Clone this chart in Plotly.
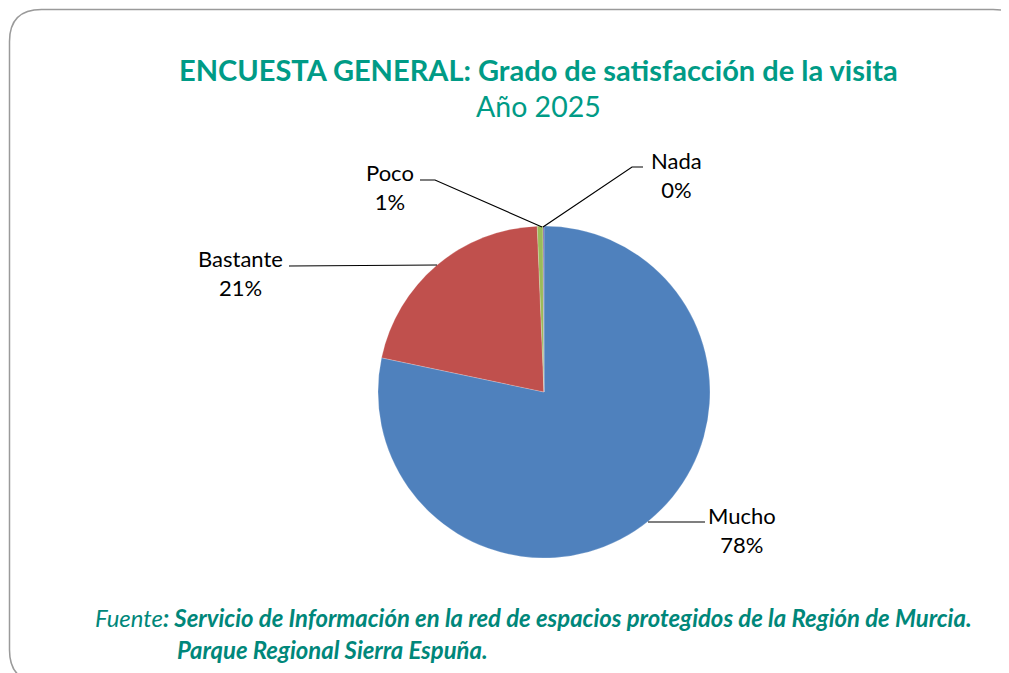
import plotly.graph_objects as go

# ---- data ----
categories = ["Mucho", "Bastante", "Poco", "Nada"]
values = [78.3, 21.05, 0.55, 0.1]
colors = ["#4F81BD", "#C0504D", "#9BBB59", "#8064A2"]

title_text = "ENCUESTA GENERAL: Grado de satisfacción de la visita"
subtitle_text = "Año 2025"
source_prefix = "Fuente"
source_line1 = ": Servicio de Información en la red de espacios protegidos de la Región de Murcia."
source_line2 = "Parque Regional Sierra Espuña."

OFF = 8  # browser default body margin
W, H = 1009 - OFF, 673 - OFF
FONT = "Lato"
TEAL = "#009B86"
TEAL2 = "#00877A"


def px(x):
    return (x - OFF) / W


def py(y):
    return 1 - (y - OFF) / H


total = sum(values)
pcts = [v / total * 100 for v in values]

fig = go.Figure()
cx, cy, r = 544, 392, 166
fig.add_trace(go.Pie(
    labels=categories,
    values=values,
    sort=False,
    direction="clockwise",
    rotation=0,
    marker=dict(colors=colors, line=dict(color="rgba(255,255,255,0.4)", width=0.5)),
    textinfo="none",
    hoverinfo="label+percent",
    showlegend=False,
    domain=dict(x=[px(cx - r), px(cx + r)], y=[py(cy + r), py(cy - r)]),
))

# label placements (pixel positions) and leader lines
label_pos = {
    "Mucho": (742, 530),
    "Bastante": (240, 273),
    "Poco": (390, 187),
    "Nada": (676, 175),
}
leaders = {
    "Mucho": [(648, 522), (705, 522)],
    "Bastante": [(437, 265), (289, 266)],
    "Poco": [(542, 227), (435, 180), (420, 180)],
    "Nada": [(543, 227), (632, 167), (643, 167)],
}

annotations = []
shapes = []
for cat, pct in zip(categories, pcts):
    x, y = label_pos[cat]
    annotations.append(dict(
        x=px(x), y=py(y), xref="paper", yref="paper",
        text=f"{cat}<br>{round(pct)}%", showarrow=False,
        font=dict(family=FONT, size=22, color="#000000"),
        align="center", xanchor="center", yanchor="middle",
    ))
    pts = leaders[cat]
    path = "M " + " L ".join(f"{px(a):.5f},{py(b):.5f}" for a, b in pts)
    shapes.append(dict(type="path", xref="paper", yref="paper", path=path,
                       line=dict(color="#000000", width=1.2)))

# titles
annotations.append(dict(
    x=px(538), y=py(70), xref="paper", yref="paper",
    text=f"<b>{title_text}</b>", showarrow=False,
    font=dict(family=FONT, size=29, color=TEAL),
    xanchor="center", yanchor="middle"))
annotations.append(dict(
    x=px(538), y=py(106), xref="paper", yref="paper",
    text=subtitle_text, showarrow=False,
    font=dict(family=FONT, size=28.5, color=TEAL),
    xanchor="center", yanchor="middle"))

# source
annotations.append(dict(
    x=px(93), y=py(617), xref="paper", yref="paper",
    text=f"<i>{source_prefix}</i><b><i>{source_line1}</i></b>", showarrow=False,
    font=dict(family=FONT, size=23.9, color=TEAL2),
    xanchor="left", yanchor="middle"))
annotations.append(dict(
    x=px(175), y=py(649), xref="paper", yref="paper",
    text=f"<b><i>{source_line2}</i></b>", showarrow=False,
    font=dict(family=FONT, size=23.9, color=TEAL2),
    xanchor="left", yanchor="middle"))

# rounded frame
L, T, R, B, rad = 9.5, 9.5, 1025, 682, 32
frame = (f"M {px(L):.5f},{py(T+rad):.5f} Q {px(L):.5f},{py(T):.5f} {px(L+rad):.5f},{py(T):.5f} "
         f"L {px(R-rad):.5f},{py(T):.5f} Q {px(R):.5f},{py(T):.5f} {px(R):.5f},{py(T+rad):.5f} "
         f"L {px(R):.5f},{py(B-rad):.5f} Q {px(R):.5f},{py(B):.5f} {px(R-rad):.5f},{py(B):.5f} "
         f"L {px(L+rad):.5f},{py(B):.5f} Q {px(L):.5f},{py(B):.5f} {px(L):.5f},{py(B-rad):.5f} Z")
shapes.insert(0, dict(type="path", xref="paper", yref="paper", path=frame,
                      line=dict(color="#9A9A9A", width=1.5), layer="below"))

fig.update_layout(
    width=W, height=H,
    margin=dict(l=0, r=0, t=0, b=0),
    paper_bgcolor="white", plot_bgcolor="white",
    annotations=annotations, shapes=shapes,
)

fig.write_html("out.html")
